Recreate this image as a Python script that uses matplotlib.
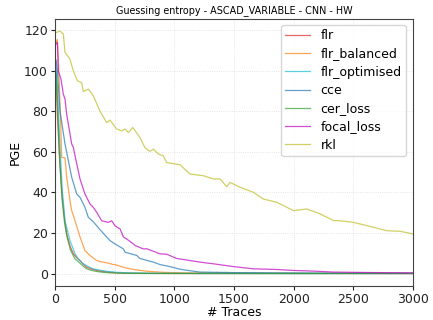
import matplotlib
matplotlib.use("Agg")
import matplotlib.pyplot as plt

title = "Guessing entropy - ASCAD_VARIABLE - CNN - HW"
x_label = "# Traces"
y_label = "PGE"

series_names = ["flr", "flr_balanced", "flr_optimised", "cce", "cer_loss", "focal_loss", "rkl"]

flr_t = [1, 10, 20, 40, 60, 80, 98, 126, 154, 182, 210, 237, 265, 300, 349, 400, 461, 520, 600, 800, 1200, 2000, 3000]
flr_v = [110, 95, 78, 55, 38, 27, 19.5, 13.5, 9.7, 7.8, 6.4, 4.6, 3.1, 2.3, 1.5, 1.0, 0.6, 0.3, 0.15, 0.05, 0.0, 0.0, 0.0]

flr_bal_t = [1, 10, 20, 35, 50, 56, 84, 98, 126, 140, 168, 210, 251, 293, 349, 377, 433, 489, 503, 573, 629, 700, 796, 900, 1100, 1500, 2000, 3000]
flr_bal_v = [112, 114, 115.4, 95, 70, 57.2, 57.0, 47.4, 35.9, 31, 26, 17.9, 11.3, 8.9, 6.4, 5.9, 5.3, 4.4, 4.4, 3.1, 2.3, 1.6, 1.0, 0.6, 0.3, 0.15, 0.05, 0.0]

flr_opt_t = [1, 10, 20, 40, 60, 84, 126, 168, 200, 237, 280, 321, 380, 433, 517, 600, 800, 1200, 2000, 3000]
flr_opt_v = [105, 100, 92, 65, 42, 26, 16.2, 9.7, 6.8, 4.8, 3.4, 2.3, 1.6, 1.1, 0.6, 0.35, 0.15, 0.05, 0.0, 0.0]

cce_t = [1, 10, 20, 42, 84, 140, 182, 210, 251, 279, 321, 377, 461, 503, 573, 587, 685, 712, 824, 880, 964, 1048, 1104, 1215, 1500, 1858, 2500, 3000]
cce_v = [106, 105, 100, 80, 63.8, 47.4, 39.2, 37.5, 32.6, 27.7, 25.5, 21.6, 16.2, 14.6, 12.1, 10.5, 8.9, 7.4, 5.6, 4.4, 3.4, 2.1, 1.6, 0.7, 0.45, 0.3, 0.1, 0.05]

cer_t = [1, 10, 20, 40, 60, 80, 98, 130, 168, 210, 240, 265, 300, 349, 400, 461, 550, 700, 1000, 2000, 3000]
cer_v = [100, 98, 85, 55, 36, 25, 18.7, 11.5, 7.2, 5.1, 3.4, 2.3, 1.6, 1.0, 0.6, 0.3, 0.15, 0.05, 0.0, 0.0, 0.0]

focal_t = [1, 10, 20, 28, 50, 70, 84, 98, 126, 140, 154, 168, 210, 251, 293, 321, 349, 391, 447, 475, 503, 545, 573, 601, 656, 671, 740, 768, 880, 936, 1020, 1131, 1215, 1350, 1495, 1663, 1850, 1998, 2200, 2333, 2600, 3000]
focal_v = [112, 113.5, 113.8, 99.8, 95.8, 88.4, 85.9, 78.5, 68.7, 63.8, 62.1, 58, 46.5, 39.2, 34.3, 32.6, 30.2, 26, 25.2, 26, 23.5, 22, 18, 17, 14.6, 13.8, 12.1, 12.2, 9.7, 9.5, 7.4, 6.4, 5.6, 4.6, 3.4, 2.3, 2.0, 1.5, 1.1, 0.7, 0.5, 0.3]

rkl_t = [1, 20, 42, 70, 84, 125, 153, 187, 224, 237, 280, 321, 377, 433, 461, 517, 559, 587, 615, 651, 712, 754, 796, 824, 866, 908, 935, 1048, 1131, 1243, 1327, 1383, 1439, 1467, 1551, 1663, 1746, 1858, 1998, 2109, 2221, 2333, 2389, 2500, 2668, 2780, 2892, 3000]
rkl_v = [118.5, 119, 119.5, 118, 109, 105.7, 100, 95, 94, 89.7, 90.9, 87.6, 80, 74.4, 75.6, 71.2, 70.3, 71.2, 69.5, 72, 67, 62, 60.2, 61.3, 58.9, 58, 54.7, 53.6, 49, 48.2, 46.6, 46.6, 42.8, 44.9, 42.5, 40, 36.7, 35.1, 31, 31.8, 29.4, 26.1, 26, 25.2, 22.8, 21.1, 20.8, 19.5]

series_t = [flr_t, flr_bal_t, flr_opt_t, cce_t, cer_t, focal_t, rkl_t]
series_v = [flr_v, flr_bal_v, flr_opt_v, cce_v, cer_v, focal_v, rkl_v]
colors = ["tab:red", "tab:orange", "tab:cyan", "tab:blue", "tab:green", "m", "tab:olive"]

fig = plt.figure(figsize=(4.33, 3.2), dpi=100)
ax = fig.add_axes([0.127, 0.106, 0.827, 0.835])

for t, v, name, c in zip(series_t, series_v, series_names, colors):
    ax.plot(t, v, color=c, alpha=0.7, linewidth=0.9, label=name)

ax.set_xlim(0, 3000)
ax.set_ylim(-6.2, 125.5)
ax.set_xticks([0, 500, 1000, 1500, 2000, 2500, 3000])
ax.set_yticks([0, 20, 40, 60, 80, 100, 120])
ax.tick_params(labelsize=9, length=3, width=0.8, pad=2, colors="#222222")
ax.grid(True, linestyle=":", linewidth=0.6, color="#dddddd")
for s in ax.spines.values():
    s.set_color("#444444")
    s.set_linewidth(0.8)

ax.set_title(title, fontsize=6.9, pad=4)
ax.set_xlabel(x_label, fontsize=9, labelpad=0)
ax.set_ylabel(y_label, fontsize=9, labelpad=2)

leg = ax.legend(loc="upper right", fontsize=9, labelspacing=0.42, handlelength=2.0,
                borderpad=0.35, handletextpad=0.8, frameon=True, fancybox=True,
                borderaxespad=0.0, bbox_to_anchor=(0.98, 0.978))
leg.get_frame().set_edgecolor("#cccccc")

fig.savefig("out.png", dpi=100)
